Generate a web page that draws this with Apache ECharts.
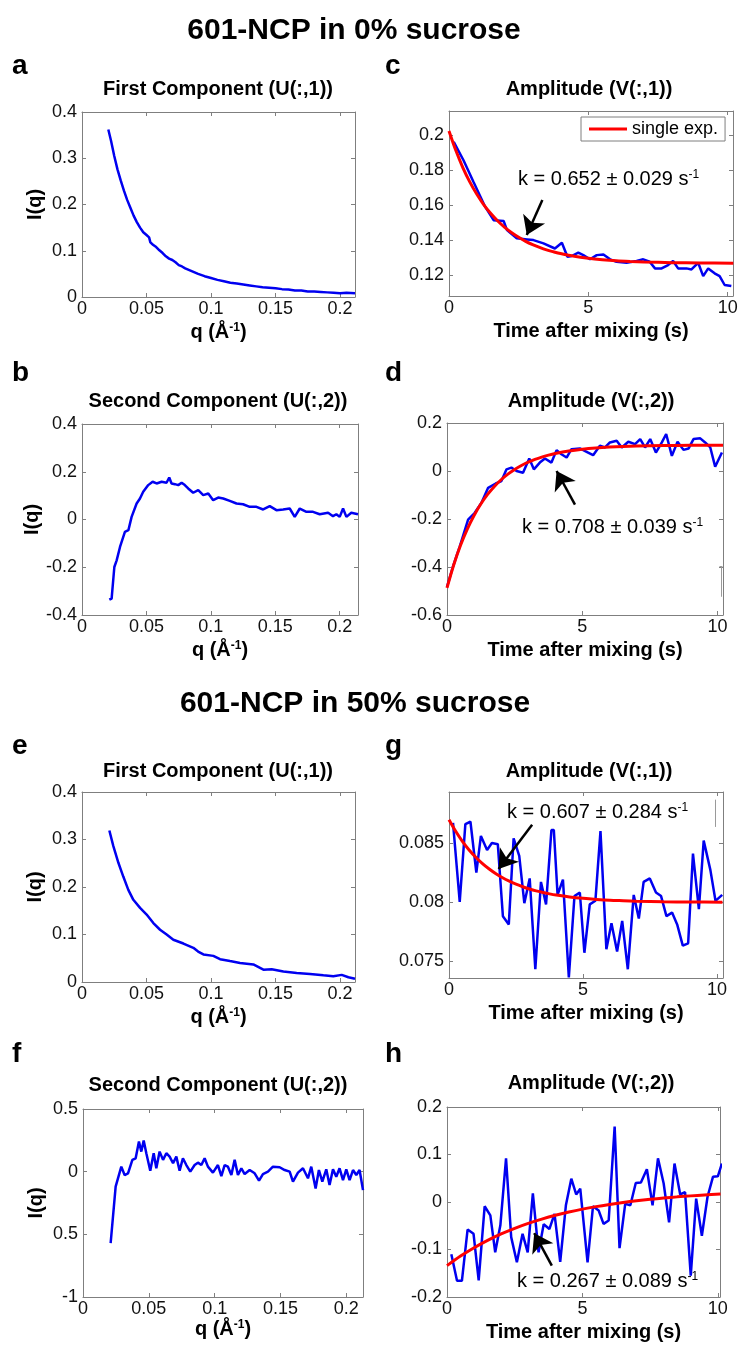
<!DOCTYPE html>
<html><head><meta charset="utf-8">
<script src="https://cdn.jsdelivr.net/npm/echarts@6/dist/echarts.min.js"></script>
<style>html,body{margin:0;padding:0;background:#fff}#c{width:741px;height:1347px}</style>
</head><body><div id="c"></div><script>
const FONT = '"Liberation Sans", Arial, Helvetica, sans-serif';
const BLUE = '#0000f0', RED = '#ff0000', AXC = '#7f7f7f', TXT = '#111111';

// ---- tick values and labels ----
const qTicks = [0, 0.05, 0.1, 0.15, 0.2];
const qTickLabels = ['0', '0.05', '0.1', '0.15', '0.2'];
const tTicks = [0, 5, 10];
const tTickLabels = ['0', '5', '10'];
const aYTicks = [0, 0.1, 0.2, 0.3, 0.4];
const aYLabels = ['0', '0.1', '0.2', '0.3', '0.4'];
const bYTicks = [-0.4, -0.2, 0, 0.2, 0.4];
const bYLabels = ['-0.4', '-0.2', '0', '0.2', '0.4'];
const cYTicks = [0.12, 0.14, 0.16, 0.18, 0.2];
const cYLabels = ['0.12', '0.14', '0.16', '0.18', '0.2'];
const dYTicks = [-0.6, -0.4, -0.2, 0, 0.2];
const dYLabels = ['-0.6', '-0.4', '-0.2', '0', '0.2'];
const eYTicks = [0, 0.1, 0.2, 0.3, 0.4];
const eYLabels = ['0', '0.1', '0.2', '0.3', '0.4'];
const fYTicks = [-1, -0.5, 0, 0.5];
const fYLabels = ['-1', '0.5', '0', '0.5'];
const gYTicks = [0.075, 0.08, 0.085];
const gYLabels = ['0.075', '0.08', '0.085'];
const hYTicks = [-0.2, -0.1, 0, 0.1, 0.2];
const hYLabels = ['-0.2', '-0.1', '0', '0.1', '0.2'];

// ---- panel a: First Component, 0% sucrose ----
const qA = [0.0204,0.0225,0.025,0.0275,0.03,0.0325,0.035,0.0375,0.04,0.0425,0.045,0.0475,0.05,0.052,0.053,0.055,0.0575,0.06,0.0625,0.065,0.0675,0.07,0.0725,0.075,0.0775,0.08,0.085,0.09,0.095,0.1,0.105,0.11,0.115,0.12,0.125,0.13,0.135,0.14,0.145,0.15,0.155,0.16,0.165,0.17,0.175,0.18,0.185,0.19,0.195,0.2,0.205,0.2116];
const iA = [0.362,0.338,0.305,0.276,0.252,0.230,0.210,0.193,0.176,0.162,0.150,0.140,0.134,0.129,0.118,0.113,0.108,0.101,0.095,0.088,0.083,0.080,0.075,0.069,0.066,0.062,0.056,0.050,0.045,0.041,0.037,0.034,0.031,0.029,0.027,0.025,0.023,0.021,0.020,0.019,0.017,0.016,0.014,0.014,0.012,0.012,0.011,0.010,0.009,0.008,0.009,0.008];

// ---- panel b: Second Component, 0% sucrose ----
const qB = [0.0212,0.023,0.0251,0.0269,0.0295,0.0333,0.036,0.0385,0.0424,0.045,0.0475,0.0514,0.0548,0.0579,0.0618,0.0656,0.0677,0.0695,0.0721,0.0747,0.0773,0.0798,0.0824,0.0863,0.0902,0.0941,0.098,0.1018,0.1057,0.1096,0.1147,0.1199,0.125,0.1302,0.1354,0.1406,0.1457,0.1509,0.1561,0.1612,0.1651,0.169,0.1742,0.1793,0.1845,0.191,0.1948,0.1974,0.2,0.2026,0.2052,0.209,0.2142];
const vB = [-0.336,-0.331,-0.199,-0.171,-0.115,-0.052,-0.045,0.011,0.067,0.088,0.116,0.144,0.158,0.151,0.158,0.154,0.176,0.151,0.148,0.144,0.154,0.144,0.13,0.112,0.123,0.102,0.109,0.081,0.092,0.088,0.078,0.067,0.064,0.053,0.053,0.042,0.056,0.039,0.042,0.046,0.011,0.046,0.032,0.032,0.022,0.028,0.014,0.022,0.011,0.046,0.011,0.028,0.022];

// ---- panel c: Amplitude V(:,1), 0% sucrose ----
const tC = [0.17,0.52,0.88,1.3,1.6,1.96,2.08,2.43,2.8,3.03,3.39,3.8,4.05,4.25,4.4,4.64,4.82,5.06,5.3,5.54,5.78,6.01,6.37,6.73,6.97,7.2,7.39,7.63,7.86,8.04,8.22,8.52,8.7,8.94,9.12,9.3,9.53,9.71,9.89,10.13];
const vC = [0.1962,0.1857,0.1733,0.159,0.1514,0.1509,0.1457,0.141,0.1404,0.140,0.1381,0.1352,0.1385,0.1305,0.1309,0.1328,0.1314,0.129,0.1314,0.1318,0.129,0.1276,0.127,0.128,0.129,0.1276,0.1238,0.1238,0.1257,0.128,0.1238,0.1238,0.1232,0.127,0.1194,0.1238,0.121,0.1194,0.1143,0.1137];
const tFitC = [0,0.25,0.5,0.75,1,1.25,1.5,1.75,2,2.25,2.5,2.75,3,3.25,3.5,3.75,4,4.5,5,5.5,6,6.5,7,8,9,10.2];
const vFitC = [0.2025,0.1911,0.1814,0.1732,0.1662,0.1602,0.1552,0.1509,0.1473,0.1442,0.1416,0.1393,0.1374,0.1358,0.1344,0.1333,0.1323,0.1307,0.1296,0.1288,0.1282,0.1278,0.1275,0.1271,0.1269,0.1268];

// ---- panel d: Amplitude V(:,2), 0% sucrose ----
const tD = [0,0.22,0.47,0.78,1.02,1.27,1.52,1.8,2.01,2.2,2.38,2.57,2.81,3.04,3.21,3.43,3.62,3.86,4.05,4.23,4.42,4.6,4.91,5.16,5.4,5.65,5.84,6.02,6.27,6.46,6.7,6.95,7.14,7.32,7.51,7.72,7.94,8.1,8.31,8.52,8.74,8.93,9.11,9.36,9.54,9.73,9.91,10.16];
const vD = [-0.483,-0.399,-0.315,-0.203,-0.175,-0.133,-0.07,-0.052,-0.042,0.007,0.014,0.0,-0.007,0.052,0.007,0.035,0.052,0.035,0.087,0.07,0.056,0.091,0.094,0.080,0.066,0.105,0.098,0.119,0.126,0.098,0.122,0.112,0.133,0.098,0.133,0.077,0.119,0.154,0.063,0.122,0.088,0.094,0.133,0.136,0.119,0.098,0.018,0.077];
const tFitD = [0,0.25,0.5,0.75,1,1.25,1.5,1.75,2,2.25,2.5,2.75,3,3.25,3.5,3.75,4,4.5,5,5.5,6,6.5,7,8,9,10.2];
const vFitD = [-0.487,-0.3906,-0.3096,-0.2419,-0.1851,-0.1376,-0.0977,-0.0644,-0.0364,-0.0130,0.0067,0.0231,0.0369,0.0484,0.0581,0.0662,0.0730,0.0834,0.0907,0.0959,0.0995,0.1020,0.1038,0.1059,0.1070,0.1076];

// ---- panel e: First Component, 50% sucrose ----
const qE = [0.0212,0.0243,0.0282,0.032,0.0359,0.0398,0.045,0.0501,0.0553,0.0605,0.0656,0.0708,0.0786,0.0863,0.09,0.0941,0.1018,0.107,0.1147,0.1225,0.1328,0.1406,0.147,0.1561,0.1664,0.1767,0.1871,0.1948,0.2013,0.2065,0.2116];
const iE = [0.319,0.286,0.251,0.222,0.194,0.173,0.156,0.142,0.124,0.110,0.100,0.089,0.081,0.072,0.064,0.058,0.055,0.048,0.044,0.040,0.037,0.026,0.027,0.022,0.019,0.017,0.014,0.012,0.015,0.010,0.007];

// ---- panel f: Second Component, 50% sucrose ----
const qF = [0.021,0.0248,0.0291,0.0316,0.0342,0.0375,0.04,0.0425,0.0443,0.0461,0.0481,0.0511,0.0537,0.0557,0.0582,0.0608,0.0633,0.0658,0.0684,0.0709,0.0734,0.0759,0.0785,0.0815,0.0848,0.0873,0.0899,0.0924,0.0949,0.0987,0.1025,0.1051,0.1076,0.1101,0.1127,0.1152,0.1177,0.1203,0.1228,0.1266,0.1304,0.1337,0.1367,0.1405,0.1443,0.1494,0.1532,0.157,0.1595,0.1633,0.1671,0.1709,0.1734,0.1767,0.1792,0.1818,0.1848,0.1873,0.1899,0.1924,0.1949,0.1975,0.2,0.2025,0.2051,0.2076,0.2101,0.2127];
const vF = [-0.57,-0.12,0.04,-0.027,-0.013,0.094,0.107,0.24,0.16,0.249,0.147,0.008,0.147,0.027,0.16,0.094,0.147,0.12,0.067,0.12,0.008,0.107,0.053,0.0,0.053,0.072,0.053,0.107,0.04,-0.008,0.053,-0.035,0.053,0.04,-0.027,0.094,-0.027,0.027,-0.019,0.013,-0.013,-0.072,-0.019,0.0,0.04,0.035,0.013,0.0,-0.08,-0.008,0.027,-0.053,0.04,-0.134,0.013,-0.08,0.019,-0.107,0.019,-0.04,0.027,-0.067,0.019,-0.067,0.013,-0.027,0.013,-0.147];

// ---- panel g: Amplitude V(:,1), 50% sucrose ----
const tG = [0.15,0.4,0.61,0.8,1.02,1.19,1.42,1.6,1.82,2.01,2.23,2.41,2.62,2.81,3.01,3.22,3.43,3.62,3.82,3.91,4.05,4.25,4.47,4.68,4.88,5.05,5.25,5.46,5.65,5.87,6.06,6.27,6.46,6.67,6.89,7.08,7.26,7.49,7.72,7.91,8.11,8.32,8.51,8.72,8.92,9.1,9.32,9.5,9.75,9.94,10.19];
const vG = [0.0867,0.080,0.0866,0.0868,0.0825,0.0856,0.0844,0.085,0.0849,0.0788,0.0781,0.0854,0.0839,0.0799,0.082,0.0743,0.0817,0.0798,0.0861,0.0861,0.0806,0.0819,0.0736,0.0805,0.0808,0.0757,0.0798,0.0801,0.086,0.076,0.0782,0.0758,0.0784,0.0743,0.0806,0.0786,0.0817,0.082,0.0808,0.0805,0.0788,0.0791,0.0781,0.0763,0.0765,0.0841,0.0794,0.0852,0.0827,0.0801,0.0806];
const tFitG = [0,0.25,0.5,0.75,1,1.25,1.5,1.75,2,2.25,2.5,2.75,3,3.25,3.5,3.75,4,4.5,5,5.5,6,6.5,7,8,9,10.2];
const vFitG = [0.08697,0.08599,0.08514,0.08441,0.08379,0.08325,0.08279,0.08239,0.08205,0.08176,0.08151,0.08129,0.08110,0.08094,0.08081,0.08069,0.08059,0.08043,0.08031,0.08022,0.08015,0.08011,0.08007,0.08002,0.08000,0.07998];

// ---- panel h: Amplitude V(:,2), 50% sucrose ----
const tH = [0.16,0.37,0.55,0.76,0.98,1.17,1.39,1.6,1.78,1.97,2.18,2.37,2.58,2.79,2.98,3.17,3.38,3.57,3.78,3.97,4.18,4.39,4.59,4.77,4.92,5.19,5.39,5.6,5.78,5.97,6.19,6.37,6.58,6.77,6.97,7.16,7.38,7.59,7.79,8.0,8.2,8.4,8.61,8.79,9.0,9.2,9.41,9.62,9.82,10.0,10.15];
const vH = [-0.110,-0.166,-0.166,-0.058,-0.067,-0.165,-0.009,-0.028,-0.106,-0.049,0.092,-0.074,-0.127,-0.067,-0.106,0.018,-0.106,-0.047,-0.057,-0.025,-0.126,-0.007,0.049,0.016,0.028,-0.127,-0.009,-0.018,-0.046,-0.039,0.159,-0.097,-0.004,-0.007,0.040,0.041,0.069,-0.007,0.092,0.039,-0.043,0.081,0.016,0.021,-0.155,0.007,-0.071,0.011,0.053,0.054,0.081];
const tFitH = [0,0.5,1,1.5,2,2.5,3,3.5,4,4.5,5,5.5,6,6.5,7,7.5,8,8.5,9,9.5,10.1];
const vFitH = [-0.134,-0.1138,-0.0962,-0.0807,-0.0672,-0.0554,-0.0450,-0.0360,-0.0280,-0.0211,-0.0150,-0.0097,-0.0051,-0.0010,0.0026,0.0057,0.0084,0.0108,0.0129,0.0147,0.0166];

// ---- texts ----
const Q_NAME = '{b|q (Å}{s|-1}{b|)}';
const T_NAME = 'Time after mixing (s)';

const panels = [
  {box:[82,112,273,185], xr:[0,0.2116], yr:[0,0.4], xt:qTicks, xl:qTickLabels, yt:aYTicks, yl:aYLabels, xname:Q_NAME, yname:'I(q)', blue:[qA,iA]},
  {box:[449,111,284,185], xr:[0,10.19], yr:[0.108,0.2139], xt:tTicks, xl:tTickLabels, yt:cYTicks, yl:cYLabels, xname:T_NAME, blue:[tC,vC], fit:[tFitC,vFitC], fitName:'single exp.', arrow:[[3.35,0.1629],[2.79,0.1429]]},
  {box:[82,424,276,191], xr:[0,0.2142], yr:[-0.4,0.4], xt:qTicks, xl:qTickLabels, yt:bYTicks, yl:bYLabels, xname:Q_NAME, yname:'I(q)', blue:[qB,vB]},
  {box:[447,423,276,192], xr:[0,10.2], yr:[-0.6,0.2], xt:tTicks, xl:tTickLabels, yt:dYTicks, yl:dYLabels, xname:T_NAME, blue:[tD,vD], fit:[tFitD,vFitD], fitName:'fit d', arrow:[[4.73,-0.140],[4.05,0.0]], marks:[[[10.13,-0.398],[10.13,-0.524]],[[10.07,-0.398],[10.18,-0.398]]]},
  {box:[82,792,273,190], xr:[0,0.2116], yr:[0,0.4], xt:qTicks, xl:qTickLabels, yt:eYTicks, yl:eYLabels, xname:Q_NAME, yname:'I(q)', blue:[qE,iE]},
  {box:[449,792,274,186], xr:[0,10.22], yr:[0.07356,0.08932], xt:tTicks, xl:tTickLabels, yt:gYTicks, yl:gYLabels, xname:T_NAME, blue:[tG,vG], fit:[tFitG,vFitG], fitName:'fit g', arrow:[[3.10,0.08655],[1.85,0.0828]], marks:[[[9.94,0.08867],[9.94,0.08636]]]},
  {box:[83,1109,280,188], xr:[0,0.2127], yr:[-1,0.5], xt:qTicks, xl:qTickLabels, yt:fYTicks, yl:fYLabels, xname:Q_NAME, yname:'I(q)', blue:[qF,vF], xGap:22},
  {box:[447,1107,273,190], xr:[0,10.08], yr:[-0.2,0.2], xt:tTicks, xl:tTickLabels, yt:hYTicks, yl:hYLabels, xname:T_NAME, blue:[tH,vH], fit:[tFitH,vFitH], fitName:'fit h', arrow:[[3.87,-0.134],[3.22,-0.0657]]}
];

function tickLabel(ticks, labels, v) {
  for (let i = 0; i < ticks.length; i++) if (Math.abs(ticks[i] - v) < 1e-9) return labels[i];
  return '';
}
const nameStyle = {fontSize:20, fontWeight:'bold', fontFamily:FONT, color:'#000',
  rich:{b:{fontSize:20, fontWeight:'bold', fontFamily:FONT, color:'#000'},
        s:{fontSize:12, fontWeight:'bold', fontFamily:FONT, color:'#000', verticalAlign:'top'}}};

const grid = [], xAxis = [], yAxis = [], series = [];
panels.forEach((p, i) => {
  grid.push({left:p.box[0], top:p.box[1], width:p.box[2], height:p.box[3], containLabel:false, outerBoundsMode:'none', show:false});
  [true, false].forEach(bottom => {
    xAxis.push({type:'value', gridIndex:i, position: bottom ? 'bottom' : 'top', min:p.xr[0], max:p.xr[1],
      axisLine:{show:true, onZero:false, lineStyle:{color:AXC, width:1}},
      axisTick:{show:true, inside:true, length:4, customValues:p.xt, lineStyle:{color:AXC, width:1}},
      axisLabel:{show:bottom, customValues:p.xt, formatter:v => tickLabel(p.xt, p.xl, v), margin:3, fontSize:18, color:TXT, fontFamily:FONT},
      splitLine:{show:false},
      name: bottom ? p.xname : '', nameLocation:'middle', nameGap: p.xGap || 25, nameTextStyle:nameStyle});
  });
  [true, false].forEach(left => {
    yAxis.push({type:'value', gridIndex:i, position: left ? 'left' : 'right', min:p.yr[0], max:p.yr[1],
      axisLine:{show:true, onZero:false, lineStyle:{color:AXC, width:1}},
      axisTick:{show:true, inside:true, length:4, customValues:p.yt, lineStyle:{color:AXC, width:1}},
      axisLabel:{show:left, customValues:p.yt, formatter:v => tickLabel(p.yt, p.yl, v), margin:5, fontSize:18, color:TXT, fontFamily:FONT},
      splitLine:{show:false},
      name: (left && p.yname) ? p.yname : '', nameLocation:'middle', nameGap:37, nameTextStyle:nameStyle});
  });
  const blueSeries = {type:'line', name:'data' + i, xAxisIndex:2*i, yAxisIndex:2*i, symbol:'none', animation:false,
    lineStyle:{color:BLUE, width:2.5}, itemStyle:{color:BLUE}, z:2,
    data:p.blue[0].map((x, k) => [x, p.blue[1][k]])};
  if (p.marks) {
    blueSeries.markLine = {silent:true, animation:false, symbol:['none','none'], label:{show:false},
      lineStyle:{color:'#9a9a9a', width:1, type:'solid'}, emphasis:{disabled:true},
      data:p.marks.map(m => [{coord:m[0]}, {coord:m[1]}])};
  }
  series.push(blueSeries);
  if (p.fit) {
    series.push({type:'line', name:p.fitName, xAxisIndex:2*i, yAxisIndex:2*i, symbol:'none', animation:false,
      smooth:0.3, lineStyle:{color:RED, width:3}, itemStyle:{color:RED}, z:3,
      data:p.fit[0].map((x, k) => [x, p.fit[1][k]]),
      markLine:{silent:true, animation:false, symbol:['none','arrow'], symbolSize:18, label:{show:false},
        lineStyle:{color:'#000', width:2.5, type:'solid'}, emphasis:{disabled:true},
        data:[[{coord:p.arrow[0]}, {coord:p.arrow[1]}]]}});
  }
});

function txt(x, y, text, size, bold, align) {
  return {type:'text', x:x, y:y, silent:true, z:10,
    style:{text:text, fill:'#000', fontSize:size, fontWeight:bold ? 'bold' : 'normal', fontFamily:FONT,
      align:align || 'center', verticalAlign:'middle'}};
}
function ktxt(x, y, main) {
  return {type:'text', x:x, y:y, silent:true, z:10,
    style:{text:'{m|' + main + '}{s|-1}', align:'left', verticalAlign:'middle',
      rich:{m:{fontSize:20, fontFamily:FONT, fill:'#000', color:'#000'},
            s:{fontSize:12, fontFamily:FONT, fill:'#000', color:'#000', verticalAlign:'top'}}}};
}
const graphics = [
  txt(354, 31, '601-NCP in 0% sucrose', 30, true),
  txt(355, 704, '601-NCP in 50% sucrose', 30, true),
  txt(12, 66, 'a', 28, true, 'left'), txt(385, 66, 'c', 28, true, 'left'),
  txt(12, 373, 'b', 28, true, 'left'), txt(385, 373, 'd', 28, true, 'left'),
  txt(12, 746, 'e', 28, true, 'left'), txt(385, 746, 'g', 28, true, 'left'),
  txt(12, 1054, 'f', 28, true, 'left'), txt(385, 1054, 'h', 28, true, 'left'),
  txt(218, 89, 'First Component (U(:,1))', 20, true), txt(589, 89, 'Amplitude (V(:,1))', 20, true),
  txt(218, 401, 'Second Component (U(:,2))', 20, true), txt(591, 401, 'Amplitude (V(:,2))', 20, true),
  txt(218, 771, 'First Component (U(:,1))', 20, true), txt(589, 771, 'Amplitude (V(:,1))', 20, true),
  txt(218, 1085, 'Second Component (U(:,2))', 20, true), txt(591, 1083, 'Amplitude (V(:,2))', 20, true),
  ktxt(518, 179, 'k = 0.652 ± 0.029 s'),
  ktxt(522, 527, 'k = 0.708 ± 0.039 s'),
  ktxt(507, 812, 'k = 0.607 ± 0.284 s'),
  ktxt(517, 1281, 'k = 0.267 ± 0.089 s')
];

const chart = echarts.init(document.getElementById('c'), null, {renderer:'canvas'});
chart.setOption({
  animation:false, backgroundColor:'#ffffff',
  grid:grid, xAxis:xAxis, yAxis:yAxis, series:series,
  legend:{data:['single exp.'], left:581, top:117, padding:[3,7,3,8], itemWidth:38, itemHeight:3, icon:'rect',
    borderColor:AXC, borderWidth:1, borderRadius:0, backgroundColor:'#fff', selectedMode:false,
    textStyle:{fontSize:18, color:'#000', fontFamily:FONT}},
  graphic:graphics
});
</script></body></html>
